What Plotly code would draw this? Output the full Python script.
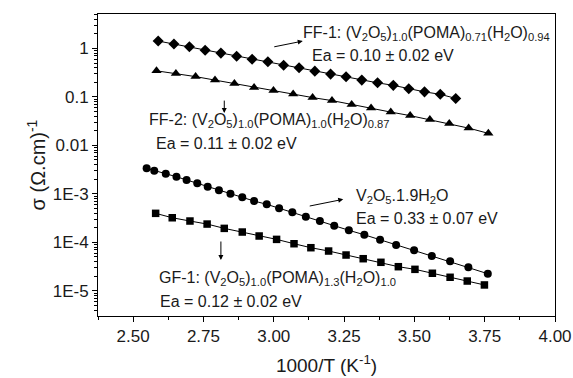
import plotly.graph_objects as go

# ---- data ----
ff1_x = [2.589, 2.645, 2.700, 2.756, 2.812, 2.868, 2.923, 2.979, 3.035, 3.090,
         3.146, 3.202, 3.257, 3.313, 3.369, 3.425, 3.480, 3.536, 3.592, 3.647]
ff1_y = [1.42, 1.23, 1.08, 0.92, 0.80, 0.69, 0.60, 0.53, 0.45, 0.40,
         0.34, 0.295, 0.26, 0.222, 0.195, 0.173, 0.147, 0.127, 0.113, 0.093]

ff2_x = [2.583, 2.652, 2.722, 2.791, 2.860, 2.930, 2.999, 3.069, 3.138, 3.207,
         3.277, 3.346, 3.416, 3.485, 3.555, 3.624, 3.693, 3.763]
ff2_y = [0.345, 0.305, 0.262, 0.222, 0.188, 0.157, 0.135, 0.115, 0.0968, 0.0839,
         0.0694, 0.0588, 0.0486, 0.0411, 0.0340, 0.0281, 0.0227, 0.0177]

v2o5_x = [2.548, 2.575, 2.616, 2.654, 2.690, 2.728, 2.765, 2.805, 2.846, 2.888,
          2.930, 2.975, 3.019, 3.066, 3.114, 3.164, 3.215, 3.267, 3.322, 3.378,
          3.435, 3.499, 3.562, 3.627, 3.692, 3.761]
v2o5_y = [3.36e-3, 2.99e-3, 2.60e-3, 2.25e-3, 1.93e-3, 1.65e-3, 1.40e-3, 1.18e-3, 1.00e-3, 8.47e-4,
          7.11e-4, 6.08e-4, 5.03e-4, 4.16e-4, 3.37e-4, 2.75e-4, 2.20e-4, 1.77e-4, 1.43e-4, 1.13e-4,
          8.79e-5, 6.84e-5, 5.21e-5, 4.05e-5, 3.05e-5, 2.25e-5]

gf1_x = [2.580, 2.639, 2.702, 2.763, 2.824, 2.888, 2.948, 3.010, 3.072, 3.132,
         3.195, 3.257, 3.318, 3.381, 3.443, 3.502, 3.564, 3.627, 3.688, 3.749]
gf1_y = [3.96e-4, 3.21e-4, 2.75e-4, 2.38e-4, 1.94e-4, 1.63e-4, 1.35e-4, 1.15e-4, 9.35e-5, 7.74e-5,
         6.61e-5, 5.47e-5, 4.59e-5, 3.87e-5, 3.14e-5, 2.77e-5, 2.30e-5, 1.90e-5, 1.59e-5, 1.32e-5]

x_ticks = [2.50, 2.75, 3.00, 3.25, 3.50, 3.75, 4.00]
y_tickvals = [1e-5, 1e-4, 1e-3, 0.01, 0.1, 1]
y_ticktext = ["1E-5", "1E-4", "1E-3", "0.01", "0.1", "1"]

FONT = "Liberation Sans, Arial, sans-serif"

# minor tick positions for the log axis (2..9 in each decade)
y_minor = [m * d for d in [1e-6, 1e-5, 1e-4, 1e-3, 1e-2, 1e-1, 1] for m in range(2, 10)]
x_minor = [v + 0.125 for v in [2.25] + x_ticks[:-1]]

fig = go.Figure()
series = [
    (ff1_x, ff1_y, "diamond", 8.5),
    (ff2_x, ff2_y, "triangle-up", 9),
    (v2o5_x, v2o5_y, "circle", 8),
    (gf1_x, gf1_y, "square", 7.5),
]
for xs, ys, sym, sz in series:
    fig.add_trace(go.Scatter(
        x=xs, y=ys, mode="lines+markers",
        line=dict(color="black", width=1),
        marker=dict(symbol=sym, size=sz, color="black", line=dict(width=0)),
        showlegend=False,
    ))

labels = [
    (3.099, 0.315, "FF-1: (V<sub>2</sub>O<sub>5</sub>)<sub>1.0</sub>(POMA)<sub>0.71</sub>(H<sub>2</sub>O)<sub>0.94</sub>"),
    (3.131, -0.138, "Ea = 0.10 ± 0.02 eV"),
    (2.553, -1.478, "FF-2: (V<sub>2</sub>O<sub>5</sub>)<sub>1.0</sub>(POMA)<sub>1.0</sub>(H<sub>2</sub>O)<sub>0.87</sub>"),
    (2.577, -1.959, "Ea = 0.11 ± 0.02 eV"),
    (3.289, -3.060, "V<sub>2</sub>O<sub>5</sub>.1.9H<sub>2</sub>O"),
    (3.289, -3.505, "Ea = 0.33 ± 0.07 eV"),
    (2.589, -4.742, "GF-1: (V<sub>2</sub>O<sub>5</sub>)<sub>1.0</sub>(POMA)<sub>1.3</sub>(H<sub>2</sub>O)<sub>1.0</sub>"),
    (2.592, -5.225, "Ea = 0.12 ± 0.02 eV"),
]
for x, y, t in labels:
    fig.add_annotation(x=x, y=y, text=t, showarrow=False, xanchor="left", yanchor="middle",
                       font=dict(family=FONT, size=16, color="#1a1a1a"), borderpad=0)

arrows = [
    (3.103, 0.151, -30, 6),
    (2.824, -1.334, 0, -14),
    (3.247, -3.113, -35, 7),
    (2.812, -4.365, 0, -20),
]
for x, y, ax, ay in arrows:
    fig.add_annotation(x=x, y=y, ax=ax, ay=ay, text="", showarrow=True,
                       arrowhead=2, arrowsize=1, arrowwidth=1, arrowcolor="black", standoff=0)

fig.update_xaxes(
    range=[2.375, 4.0], tickvals=x_ticks, ticktext=[f"{v:.2f}" for v in x_ticks],
    ticks="outside", ticklen=5, tickwidth=1, tickcolor="black",
    minor=dict(ticks="outside", ticklen=3, tickwidth=1, tickcolor="black",
               tickmode="array", tickvals=x_minor, showgrid=False),
    showline=True, linecolor="black", linewidth=1, mirror=True, showgrid=False, zeroline=False,
    tickfont=dict(family=FONT, size=17, color="#1a1a1a"), automargin=False,
    title=dict(text="1000/T (K<sup>-1</sup>)", font=dict(family=FONT, size=19, color="#1a1a1a"), standoff=13),
)
fig.update_yaxes(
    type="log", range=[-5.52, 0.71], tickvals=y_tickvals, ticktext=y_ticktext,
    ticks="outside", ticklen=5, tickwidth=1, tickcolor="black",
    minor=dict(ticks="outside", ticklen=3, tickwidth=1, tickcolor="black",
               tickmode="array", tickvals=y_minor, showgrid=False),
    showline=True, linecolor="black", linewidth=1, mirror=True, showgrid=False, zeroline=False,
    tickfont=dict(family=FONT, size=17, color="#1a1a1a"), automargin=False,
    title=dict(text="σ (Ω.cm)<sup>-1</sup>", font=dict(family=FONT, size=20, color="#1a1a1a"), standoff=1),
)
fig.update_layout(
    width=573, height=378,
    margin=dict(l=98, r=18, t=14, b=62),
    paper_bgcolor="white", plot_bgcolor="white",
)
fig.write_html("out.html", config={"displayModeBar": False},
               post_script="document.body.style.margin='0px';document.body.style.overflow='hidden';")
